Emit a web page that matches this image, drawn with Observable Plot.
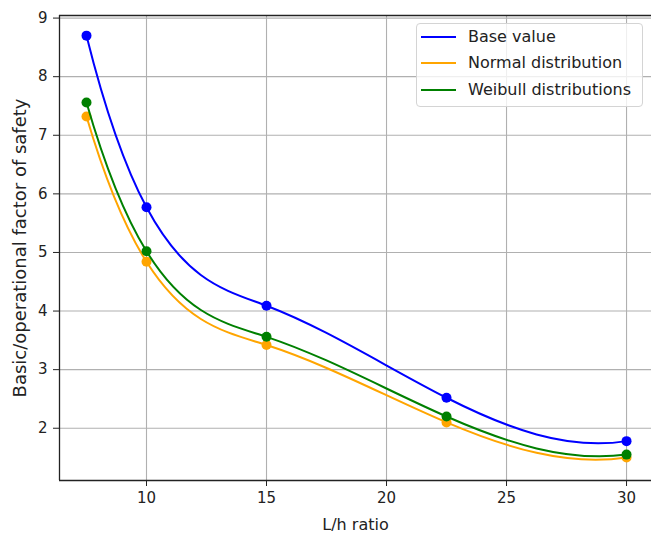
<!DOCTYPE html>
<html>
<head>
<meta charset="utf-8">
<script src="https://cdn.jsdelivr.net/npm/d3@7"></script>
<script src="https://cdn.jsdelivr.net/npm/@observablehq/plot@0.6"></script>
<style>
  html, body { margin: 0; padding: 0; background: #fff; }
  #wrap { position: relative; width: 651px; height: 534px; overflow: hidden; font-family: "DejaVu Sans", sans-serif; }
  #legend { position: absolute; left: 416px; top: 23px; width: 227px; height: 84px; box-sizing: border-box;
    border: 1px solid #d4d4d4; border-radius: 4px; background: rgba(255,255,255,0.8); }
  .swatch { position: absolute; left: 4px; width: 35px; height: 2px; }
  .lab { position: absolute; left: 51px; white-space: nowrap; font-size: 16px; color: #222; line-height: 20px; }
</style>
</head>
<body>
<div id="wrap">
  <div id="chart"></div>
  <div id="legend"></div>
</div>
<script>
const lhRatio = [7.5, 10, 15, 22.5, 30];
const seriesNames = ["Base value", "Normal distribution", "Weibull distributions"];
const seriesColors = ["blue", "orange", "green"];
const baseValue = [8.70, 5.77, 4.09, 2.52, 1.78];
const normalDist = [7.32, 4.84, 3.42, 2.10, 1.50];
const weibullDist = [7.56, 5.02, 3.56, 2.20, 1.55];
const xTicks = [10, 15, 20, 25, 30];
const yTicks = [2, 3, 4, 5, 6, 7, 8, 9];
const xLabel = "L/h ratio";
const yLabel = "Basic/operational factor of safety";

const valuesBySeries = [baseValue, normalDist, weibullDist];
const data = [];
seriesNames.forEach((s, i) => {
  lhRatio.forEach((x, j) => data.push({series: s, x, y: valuesBySeries[i][j]}));
});

// Cubic spline curve (not-a-knot end conditions), as a d3-style curve factory
function curveNotAKnot(context) {
  let xs, ys;
  function solve(A, b) {
    const n = b.length;
    for (let c = 0; c < n; c++) {
      let p = c;
      for (let r = c + 1; r < n; r++) if (Math.abs(A[r][c]) > Math.abs(A[p][c])) p = r;
      [A[c], A[p]] = [A[p], A[c]]; [b[c], b[p]] = [b[p], b[c]];
      for (let r = c + 1; r < n; r++) {
        const f = A[r][c] / A[c][c];
        for (let k = c; k < n; k++) A[r][k] -= f * A[c][k];
        b[r] -= f * b[c];
      }
    }
    const x = new Array(n).fill(0);
    for (let r = n - 1; r >= 0; r--) {
      let s = b[r];
      for (let k = r + 1; k < n; k++) s -= A[r][k] * x[k];
      x[r] = s / A[r][r];
    }
    return x;
  }
  return {
    areaStart() {}, areaEnd() {},
    lineStart() { xs = []; ys = []; },
    point(x, y) { xs.push(+x); ys.push(+y); },
    lineEnd() {
      const n = xs.length;
      if (!n) return;
      context.moveTo(xs[0], ys[0]);
      if (n < 4) { for (let i = 1; i < n; i++) context.lineTo(xs[i], ys[i]); return; }
      const h = [], d = [];
      for (let i = 0; i < n - 1; i++) { h.push(xs[i + 1] - xs[i]); d.push((ys[i + 1] - ys[i]) / h[i]); }
      const A = Array.from({length: n}, () => new Array(n).fill(0));
      const b = new Array(n).fill(0);
      A[0][0] = h[1]; A[0][1] = -(h[0] + h[1]); A[0][2] = h[0];
      for (let i = 1; i < n - 1; i++) {
        A[i][i - 1] = h[i - 1]; A[i][i] = 2 * (h[i - 1] + h[i]); A[i][i + 1] = h[i];
        b[i] = 6 * (d[i] - d[i - 1]);
      }
      A[n - 1][n - 3] = h[n - 2]; A[n - 1][n - 2] = -(h[n - 3] + h[n - 2]); A[n - 1][n - 1] = h[n - 3];
      const M = solve(A, b);
      for (let i = 0; i < n - 1; i++) {
        const s0 = d[i] - h[i] * (2 * M[i] + M[i + 1]) / 6;
        const s1 = d[i] + h[i] * (M[i] + 2 * M[i + 1]) / 6;
        context.bezierCurveTo(
          xs[i] + h[i] / 3, ys[i] + s0 * h[i] / 3,
          xs[i + 1] - h[i] / 3, ys[i + 1] - s1 * h[i] / 3,
          xs[i + 1], ys[i + 1]);
      }
    }
  };
}

const xDomain = [6.375, 31.04];
const yDomain = [1.108, 9.044];

const chart = Plot.plot({
  width: 651,
  height: 534,
  marginLeft: 59,
  marginRight: 0,
  marginTop: 15,
  marginBottom: 54,
  style: {fontFamily: "DejaVu Sans, sans-serif", fontSize: "15px", color: "#222", background: "white"},
  x: {domain: xDomain, label: null},
  y: {domain: yDomain, label: null},
  color: {domain: seriesNames, range: seriesColors},
  marks: [
    Plot.gridX(xTicks, {stroke: "#b0b0b0", strokeOpacity: 1, strokeWidth: 1.1}),
    Plot.gridY(yTicks, {stroke: "#b0b0b0", strokeOpacity: 1, strokeWidth: 1.1}),
    Plot.axisX(xTicks, {tickSize: 6, tickPadding: 6, label: null, stroke: "#222", fill: "#222", fontSize: 15, tickFormat: d => String(d)}),
    Plot.axisY(yTicks, {tickSize: 6, tickPadding: 6, label: null, stroke: "#222", fill: "#222", fontSize: 15, tickFormat: d => String(d)}),
    Plot.ruleX([xDomain[0]], {stroke: "#222", strokeWidth: 1.3}),
    Plot.ruleY([yDomain[0], yDomain[1]], {stroke: "#222", strokeWidth: 1.3}),
    ...seriesNames.flatMap(s => [
      Plot.line(data.filter(d => d.series === s), {x: "x", y: "y", stroke: "series", curve: curveNotAKnot, strokeWidth: 2}),
      Plot.dot(data.filter(d => d.series === s), {x: "x", y: "y", fill: "series", r: 5})
    ]),
    Plot.text([xLabel], {frameAnchor: "bottom", dy: 44, lineAnchor: "middle", textAnchor: "middle", fontSize: 16, fill: "#222"}),
    Plot.text([yLabel], {frameAnchor: "left", dx: -39, rotate: -90, lineAnchor: "middle", textAnchor: "middle", fontSize: 18, fill: "#222"})
  ]
});
document.getElementById("chart").appendChild(chart);

const legend = document.getElementById("legend");
const rowY = [13, 39, 65.5];
seriesNames.forEach((s, i) => {
  const sw = document.createElement("div");
  sw.className = "swatch";
  sw.style.top = (rowY[i] - 1) + "px";
  sw.style.background = seriesColors[i];
  const lab = document.createElement("div");
  lab.className = "lab";
  lab.style.top = (rowY[i] - 10) + "px";
  lab.textContent = s;
  legend.appendChild(sw);
  legend.appendChild(lab);
});
</script>
</body>
</html>
